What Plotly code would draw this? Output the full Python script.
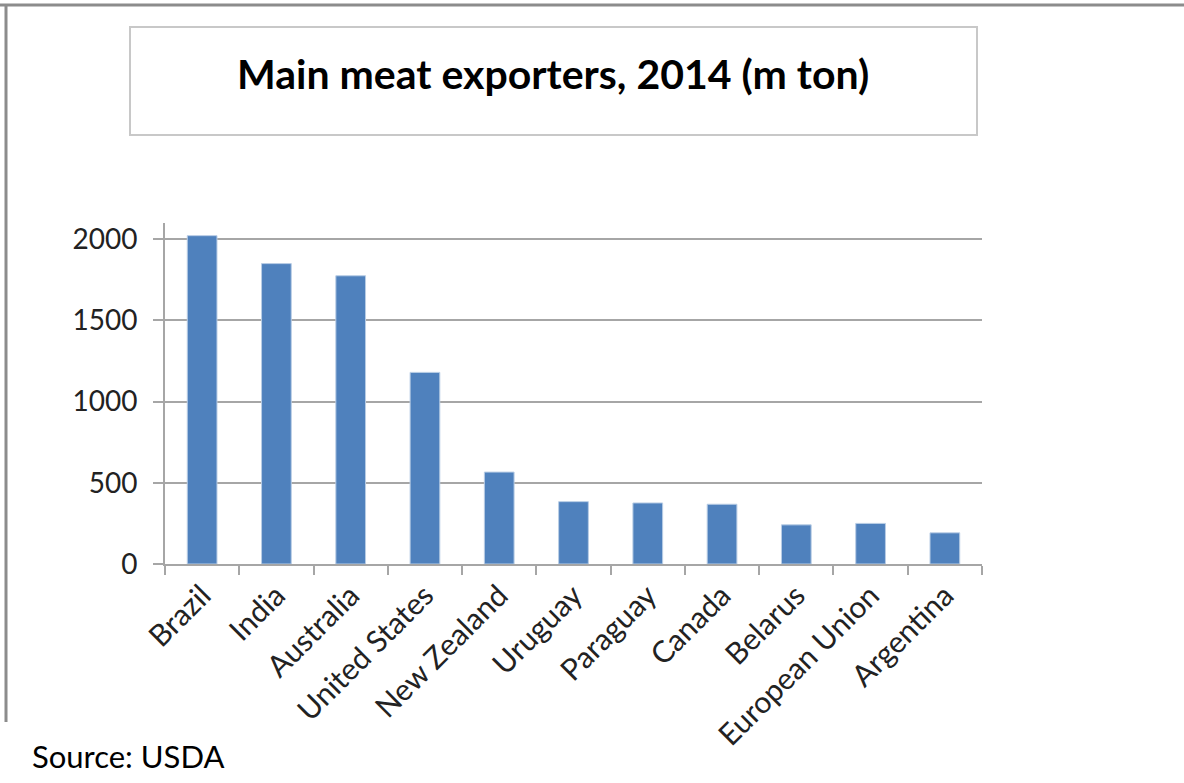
import plotly.graph_objects as go

countries = ["Brazil", "India", "Australia", "United States", "New Zealand",
             "Uruguay", "Paraguay", "Canada", "Belarus", "European Union", "Argentina"]
exports = [2022, 1850, 1775, 1180, 566, 384, 376, 368, 241, 250, 192]
y_ticks = [0, 500, 1000, 1500, 2000]

W, H = 1184, 783
L, R, T, B = 165, 982, 223, 564  # plot area in pixels

def px(x):
    return (x - L) / (R - L)

def py(y):
    return (B - y) / (B - T)

FONT = "Lato"
fig = go.Figure(go.Bar(
    x=countries, y=exports,
    marker=dict(color="#4F81BD", line=dict(color="#B9CDE5", width=1)),
    width=0.4,
))

fig.update_layout(
    width=W, height=H,
    margin=dict(l=L, r=W - R, t=T, b=H - B, pad=0),
    paper_bgcolor="white", plot_bgcolor="white",
    showlegend=False,
    font=dict(family=FONT, size=28, color="#222222"),
    xaxis=dict(
        type="category", tickangle=-45, tickson="boundaries",
        ticks="outside", ticklen=9, tickcolor="#A6A6A6", tickwidth=2,
        showline=True, linecolor="#A6A6A6", linewidth=2,
        showgrid=False, range=[-0.5, len(countries) - 0.5],
        tickfont=dict(family=FONT, size=30, color="#222222"),
    ),
    yaxis=dict(
        range=[0, 2100], tickvals=y_ticks,
        ticks="outside", ticklen=10, tickcolor="#A6A6A6", tickwidth=2,
        showline=True, linecolor="#A6A6A6", linewidth=2,
        showgrid=True, gridcolor="#A6A6A6", gridwidth=2,
        zeroline=False, ticklabelstandoff=10,
        tickfont=dict(family=FONT, size=28, color="#222222"),
    ),
    shapes=[
        dict(type="rect", xref="paper", yref="paper",
             x0=px(130), x1=px(977), y0=py(135), y1=py(27),
             line=dict(color="#C8C8C8", width=2), fillcolor="rgba(0,0,0,0)", layer="above"),
        dict(type="line", xref="paper", yref="paper",
             x0=px(0), x1=px(W), y0=py(5), y1=py(5),
             line=dict(color="#8C8C8C", width=3)),
        dict(type="line", xref="paper", yref="paper",
             x0=px(6), x1=px(6), y0=py(5), y1=py(722),
             line=dict(color="#8C8C8C", width=3)),
    ],
    annotations=[
        dict(text="<b>Main meat exporters, 2014 (m ton)</b>", xref="paper", yref="paper",
             x=px(553), y=py(74), xanchor="center", yanchor="middle", showarrow=False,
             font=dict(family=FONT, size=41, color="black")),
        dict(text="Source: USDA", xref="paper", yref="paper",
             x=px(30), y=py(756), xanchor="left", yanchor="middle", showarrow=False,
             font=dict(family=FONT, size=31, color="black")),
    ],
)

fig.write_html("out.html")
